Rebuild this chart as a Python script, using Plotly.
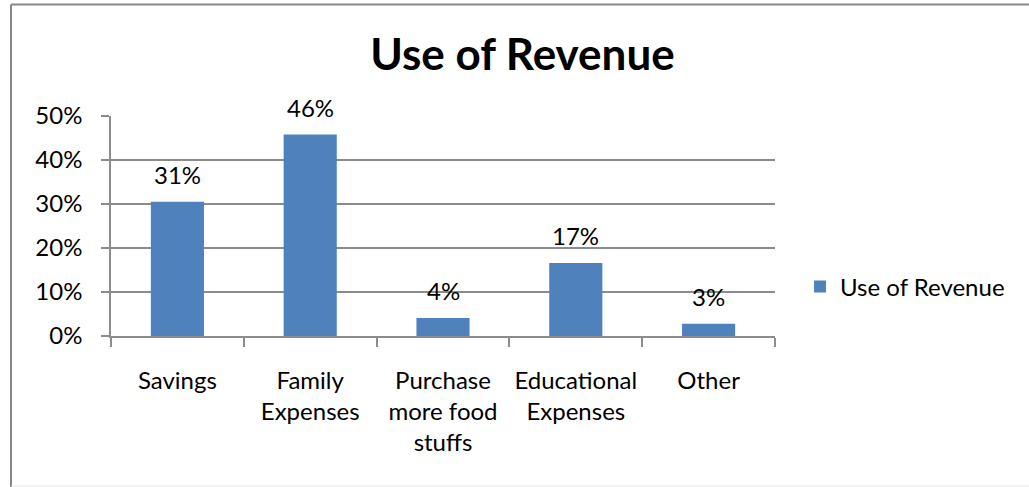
import plotly.graph_objects as go

categories = ["Savings", "Family<br>Expenses", "Purchase<br>more food<br>stuffs", "Educational<br>Expenses", "Other"]
values = [0.305, 0.458, 0.041, 0.166, 0.028]
labels = ["31%", "46%", "4%", "17%", "3%"]
series_name = "Use of Revenue"
y_ticks = [0, 0.1, 0.2, 0.3, 0.4, 0.5]
y_tick_text = ["0%", "10%", "20%", "30%", "40%", "50%"]

W, H = 1029, 487
L, R, T, B = 111, 254, 116, 151
PW, PH = W - L - R, H - T - B

def px(x):
    return (x - L) / PW

def py(y):
    return (H - B - y) / PH

FONT = "Lato, Carlito, Calibri, sans-serif"
GRID = "#8c8c8c"

fig = go.Figure()
fig.add_trace(go.Bar(
    x=list(range(len(categories))), y=values, name=series_name,
    marker=dict(color="#4f81bd", line=dict(width=0)),
    showlegend=True,
))

for i, (v, t) in enumerate(zip(values, labels)):
    fig.add_annotation(x=i, y=v, text=t, showarrow=False, yanchor="middle",
                       yshift=27, font=dict(family=FONT, size=24, color="#000"))

fig.update_layout(
    width=W, height=H,
    margin=dict(l=L, r=R, t=T, b=B, pad=0),
    paper_bgcolor="white", plot_bgcolor="white",
    bargap=0.6,
    font=dict(family=FONT, size=24, color="#000"),
    title=dict(text="<b>Use of Revenue</b>", x=px(522.5), xref="paper", xanchor="center",
               y=1 - 55 / H, yref="container", yanchor="middle",
               font=dict(family=FONT, size=44, color="#000")),
    legend=dict(x=px(800), xanchor="left", y=py(287), yanchor="middle",
                font=dict(family=FONT, size=24, color="#000"),
                bgcolor="rgba(0,0,0,0)", borderwidth=0),
    xaxis=dict(
        type="linear", range=[-0.5, len(categories) - 0.5],
        tickmode="array", tickvals=list(range(len(categories))), ticktext=categories,
        ticks="", showgrid=False, showline=True, linecolor=GRID, linewidth=1.5,
        ticklabelstandoff=22, zeroline=False,
        minor=dict(tickmode="array", tickvals=[i - 0.5 for i in range(len(categories) + 1)],
                   ticks="outside", ticklen=9, tickwidth=1.5, tickcolor=GRID, showgrid=False),
        tickfont=dict(family=FONT, size=24, color="#000"),
        fixedrange=True,
    ),
    yaxis=dict(
        range=[0, 0.5], tickmode="array", tickvals=y_ticks, ticktext=y_tick_text,
        showgrid=True, gridcolor=GRID, gridwidth=1.5,
        showline=True, linecolor=GRID, linewidth=1.5,
        ticks="outside", ticklen=8, tickwidth=1.5, tickcolor=GRID,
        ticklabelstandoff=14, zeroline=False,
        tickfont=dict(family=FONT, size=24, color="#000"),
        fixedrange=True,
    ),
    shapes=[
        dict(type="line", xref="paper", yref="paper", x0=px(11), x1=px(11), y0=py(4.5), y1=py(490),
             line=dict(color="#878787", width=2)),
        dict(type="line", xref="paper", yref="paper", x0=px(11), x1=px(1035), y0=py(4.5), y1=py(4.5),
             line=dict(color="#878787", width=2)),
        dict(type="line", xref="paper", yref="paper", x0=px(11), x1=px(1035), y0=py(486), y1=py(486),
             line=dict(color="#e6e6e6", width=1)),
    ],
)

fig.write_html("out.html")
